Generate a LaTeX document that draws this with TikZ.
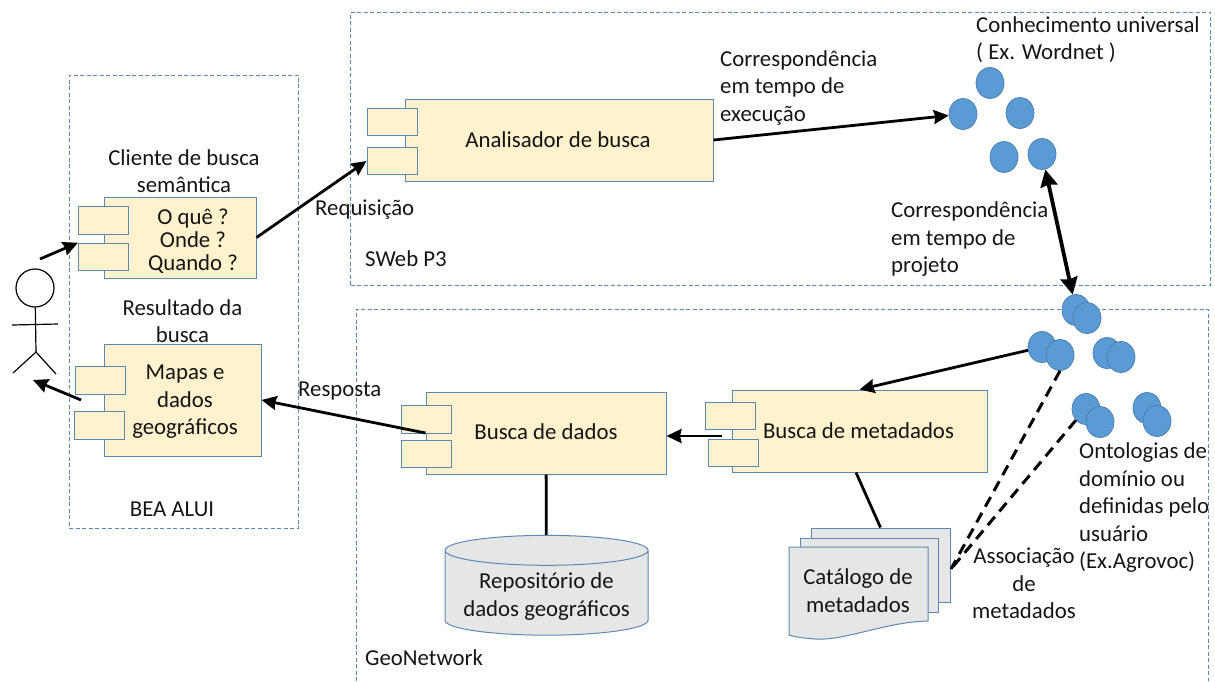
\documentclass[tikz,border=0pt]{standalone}
\usepackage{fontspec}
\setmainfont{Carlito}
\usetikzlibrary{arrows.meta,shapes.geometric}
\definecolor{borda}{HTML}{5F87B5}
\definecolor{creme}{HTML}{FFF2CC}
\definecolor{cinza}{HTML}{E7E6E6}
\definecolor{azul}{HTML}{5B9BD5}
\definecolor{tinta}{HTML}{151515}
\tikzset{
  txt/.style={inner sep=0pt, align=center, text=tinta, font=\fontsize{22.8}{27.5}\selectfont},
  txtl/.style={txt, align=left, anchor=west},
  grupo/.style={draw=borda, line width=0.8pt, dash pattern=on 4pt off 2.5pt},
  comp/.style={draw=borda, fill=creme, line width=1pt, inner sep=0pt},
  porta/.style={comp, minimum width=50, minimum height=27.5},
  pagina/.style={draw=borda, fill=cinza, line width=1pt, inner sep=0pt},
  bola/.style={ellipse, draw=azul!80!black, fill=azul, line width=0.7pt, inner sep=0pt, minimum width=28, minimum height=31},
  seta/.style={line width=2.8pt, -{Stealth[length=15pt, width=14pt, inset=1.5pt]}},
  setadupla/.style={line width=3.8pt, {Stealth[length=17pt, width=17pt, inset=1.5pt]}-{Stealth[length=17pt, width=17pt, inset=1.5pt]}},
  linha/.style={line width=2.8pt},
  tracejada/.style={line width=3pt, dash pattern=on 11pt off 7pt}
}
\begin{document}
\begin{tikzpicture}[x=1pt,y=-1pt]
  \useasboundingbox (0,0) rectangle (1215,681);

  \node[grupo, minimum width=229.5, minimum height=453] (bea) at (183.75,301.5) {};
  \node[grupo, minimum width=860, minimum height=273] (sweb) at (780.5,148.5) {};
  \draw[grupo] (356,681) -- (356,309) -- (1208,309) -- (1208,681);

  \node[comp, minimum width=308, minimum height=82] (analisador) at (559,140) {};
  \node[porta] (analisador1) at (392,122) {};
  \node[porta] (analisador2) at (392,161) {};
  \node[txt] (analisadort) at (558,140) {Analisador de busca};

  \node[comp, minimum width=152, minimum height=81] (cliente) at (180,237.5) {};
  \node[porta] (cliente1) at (103.5,220.5) {};
  \node[porta] (cliente2) at (103.5,257) {};
  \node[txt, font=\fontsize{22.8}{23}\selectfont] (busca) at (193,241) {O quê ?\\Onde ?\\Quando ?};

  \node[comp, minimum width=157, minimum height=112] (mapas) at (182.5,400) {};
  \node[porta] (mapas1) at (100,380.5) {};
  \node[porta] (mapas2) at (99,425.5) {};
  \node[txt] (mapast) at (185,402) {Mapas e\\dados\\geográficos};

  \node[comp, minimum width=240, minimum height=82] (dados) at (546,433) {};
  \node[porta] (dados1) at (426.5,419.5) {};
  \node[porta] (dados2) at (426.5,454) {};
  \node[txt] (dadost) at (546,432) {Busca de dados};

  \node[comp, minimum width=255, minimum height=82] (metadados) at (859.5,431) {};
  \node[porta] (metadados1) at (730,416) {};
  \node[porta] (metadados2) at (733,453) {};
  \node[txt] (metadadost) at (858.5,431) {Busca de metadados};

  \node[cylinder, shape border rotate=90, shape aspect=0.18, draw=borda, fill=cinza, line width=1pt, inner sep=0pt,
        minimum width=203, minimum height=95, align=center, text=tinta, font=\fontsize{22.8}{27.5}\selectfont]
        (repositorio) at (546.5,593) {\rule{0pt}{23pt}Repositório de\\dados geográficos} edge[linha] (dados);

  \node[pagina, minimum width=139, minimum height=74] (folha3) at (880.5,565) {};
  \node[pagina, minimum width=138, minimum height=74] (folha2) at (869,575) {};
  \draw[pagina] (789,547) -- (928,547) -- (928,621)
    .. controls (885,622) and (845,641) .. (815,639) .. controls (803,638) and (795,637) .. (789,635) -- cycle;
  \node[txt] (catalogo) at (858,590.5) {Catálogo de\\metadados};

  \node[bola] (w1) at (990,83) {};
  \node[bola] (w2) at (963,114) {};
  \node[bola] (w3) at (1020,113) {};
  \node[bola] (w4) at (1004,157) {};
  \node[bola] (w5) at (1042,154) {};

  \node[bola] (o1a) at (1076,310) {};
  \node[bola] (o1b) at (1087,318) {};
  \node[bola] (o2a) at (1042,347) {};
  \node[bola] (o2b) at (1060,355) {};
  \node[bola] (o3a) at (1107,353) {};
  \node[bola] (o3b) at (1121,357) {};
  \node[bola] (o4a) at (1086,409) {};
  \node[bola] (o4b) at (1100,422) {};
  \node[bola] (o5a) at (1147,408) {};
  \node[bola] (o5b) at (1157,421) {};

  \node[circle, draw=black, line width=1.2pt, minimum size=38, inner sep=0pt] (cabeca) at (35,288) {};
  \coordinate (quadril) at (36,352);
  \draw[line width=1.2pt] (cabeca) -- (quadril);
  \draw[line width=1.2pt] (12,325) -- (58,324);
  \draw[line width=1.2pt] (13,373) -- (quadril) -- (56,374);

  \coordinate (usuarioin) at (40,259);
  \coordinate (usuarioout) at (33,380);
  \coordinate (mapasout) at (81,400);
  \coordinate (metaout) at (722,436);
  \coordinate (associa) at (951,569);

  \draw[seta] (usuarioin) -- (cliente2.north west);
  \draw[seta] (mapasout) -- (usuarioout);
  \draw[seta] (cliente.east) -- (analisador2.west);
  \draw[seta] (analisador.east) -- (w2);
  \draw[setadupla] (w5) -- (o1a);
  \draw[seta] (o2a) -- (metadados.north);
  \draw[seta] (metaout) -- (dados.east |- metaout);
  \draw[seta] (dados.west) -- (mapas.east);
  \draw[linha] ([xshift=-3.5pt]metadados.south) -- (folha3.north);
  \draw[tracejada] (o2b.south) -- (associa);
  \draw[tracejada] (o4a.south west) -- (associa);

  \node[txt] (clientet) at (184,171) {Cliente de busca\\semântica};
  \node[txt] (resultado) at (182.5,321) {Resultado da\\busca};
  \node[txt] (beat) at (172,509) {BEA ALUI};
  \node[txtl] (requisicao) at (315,210) {Requisição};
  \node[txtl] (swebt) at (365,259) {SWeb P3};
  \node[txtl] (resposta) at (298,391) {Resposta};
  \node[txtl] (execucao) at (720,87.5) {Correspondência\\em tempo de\\execução};
  \node[txtl] (universal) at (976,39.5) {Conhecimento universal\\( Ex. Wordnet )};
  \node[txtl] (projeto) at (891,239.5) {Correspondência\\em tempo de\\projeto};
  \node[txt] (associacao) at (1024,583.5) {Associação\\de\\metadados};
  \node[txtl] (ontologias) at (1079,508) {Ontologias de\\domínio ou\\definidas pelo\\usuário\\(Ex.Agrovoc)};
  \node[txtl] (geo) at (365,658) {GeoNetwork};
\end{tikzpicture}
\end{document}
